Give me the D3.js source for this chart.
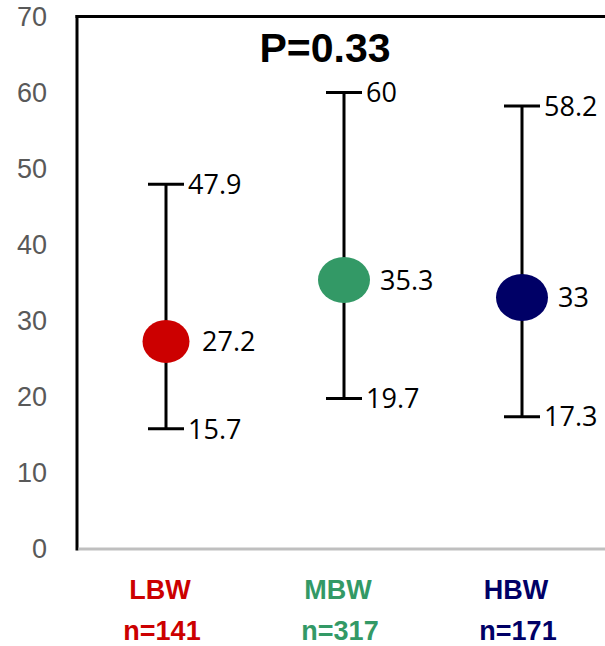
<!DOCTYPE html>
<html>
<head>
<meta charset="utf-8">
<script src="https://cdn.jsdelivr.net/npm/d3@7"></script>
<style>
  html, body { margin: 0; padding: 0; background: #fff; }
  svg { display: block; }
</style>
</head>
<body>
<svg id="chart" width="605" height="646"></svg>
<script>
// Birth-weight groups: mean with lower / upper range
const groups  = ["LBW", "MBW", "HBW"];
const counts  = [141, 317, 171];
const means   = [27.2, 35.3, 33];
const lowers  = [15.7, 19.7, 17.3];
const uppers  = [47.9, 60, 58.2];
const yTicks  = [0, 10, 20, 30, 40, 50, 60, 70];
const pValue  = "P=0.33";

// Styling
const colors  = { LBW: "#CC0000", MBW: "#339966", HBW: "#000066" };
const markerR = { LBW: [23.5, 21.5], MBW: [26, 23], HBW: [26, 23.5] };
const font    = "'Open Sans', 'Liberation Sans', Arial, sans-serif";
const axisFont = "'Liberation Sans', Arial, sans-serif";
const boldFont = "'Liberation Sans', Arial, sans-serif";

const W = 605, H = 646;
const plot = { left: 77, right: 611, top: 16.5, bottom: 548 };

const svg = d3.select("#chart");

const x = d3.scaleBand().domain(groups).range([plot.left, plot.right]).padding(0);
const cx = g => x(g) + x.bandwidth() / 2;
const y = d3.scaleLinear().domain([0, 70]).range([plot.bottom, plot.top]);

// Y axis tick labels (no tick marks)
const yAxis = d3.axisLeft(y).tickValues(yTicks).tickSize(0).tickPadding(0);
const yg = svg.append("g").attr("transform", `translate(47,0)`).call(yAxis);
yg.select(".domain").remove();
yg.selectAll("text")
  .attr("fill", "#595959")
  .attr("font-family", axisFont)
  .attr("font-size", 27)
  .attr("dy", "0.35em");

// Frame: black left and top, grey baseline
svg.append("line")
  .attr("x1", plot.left).attr("x2", plot.left)
  .attr("y1", y(70) - 1.5).attr("y2", y(0) + 2.5)
  .attr("stroke", "#000").attr("stroke-width", 3);
svg.append("line")
  .attr("x1", plot.left - 1.5).attr("x2", W)
  .attr("y1", y(70)).attr("y2", y(70))
  .attr("stroke", "#000").attr("stroke-width", 3);
svg.append("line")
  .attr("x1", plot.left + 1.5).attr("x2", W)
  .attr("y1", y(0) + 1).attr("y2", y(0) + 1)
  .attr("stroke", "#BFBFBF").attr("stroke-width", 3);

const rows = groups.map((g, i) => ({
  g, n: counts[i], mean: means[i], lo: lowers[i], hi: uppers[i]
}));

const capHalf = 18;
const bars = svg.append("g").selectAll("g").data(rows).join("g");

// Whisker and caps
bars.append("line")
  .attr("x1", d => cx(d.g)).attr("x2", d => cx(d.g))
  .attr("y1", d => y(d.lo)).attr("y2", d => y(d.hi))
  .attr("stroke", "#000").attr("stroke-width", 3);
bars.append("line")
  .attr("x1", d => cx(d.g) - capHalf).attr("x2", d => cx(d.g) + capHalf)
  .attr("y1", d => y(d.hi)).attr("y2", d => y(d.hi))
  .attr("stroke", "#000").attr("stroke-width", 3);
bars.append("line")
  .attr("x1", d => cx(d.g) - capHalf).attr("x2", d => cx(d.g) + capHalf)
  .attr("y1", d => y(d.lo)).attr("y2", d => y(d.lo))
  .attr("stroke", "#000").attr("stroke-width", 3);

// Mean markers
bars.append("ellipse")
  .attr("cx", d => cx(d.g)).attr("cy", d => y(d.mean))
  .attr("rx", d => markerR[d.g][0]).attr("ry", d => markerR[d.g][1])
  .attr("fill", d => colors[d.g]);

// Value labels
const valText = (sel, off, key) => sel.append("text")
  .attr("x", d => cx(d.g) + off)
  .attr("y", d => y(d[key]))
  .attr("dy", "0.36em")
  .attr("font-family", font)
  .attr("font-size", 27)
  .attr("fill", "#000")
  .text(d => d[key]);
valText(bars, 22, "hi");
valText(bars, 22, "lo");
valText(bars, 36, "mean");

// Category labels
const cat = svg.append("g").selectAll("g").data(rows).join("g");
cat.append("text")
  .attr("x", d => cx(d.g) - 6).attr("y", 599)
  .attr("text-anchor", "middle")
  .attr("font-family", boldFont).attr("font-weight", "bold").attr("font-size", 27)
  .attr("fill", d => colors[d.g])
  .text(d => d.g);
cat.append("text")
  .attr("x", d => cx(d.g) - 4).attr("y", 640)
  .attr("text-anchor", "middle")
  .attr("font-family", boldFont).attr("font-weight", "bold").attr("font-size", 27)
  .attr("fill", d => colors[d.g])
  .text(d => "n=" + d.n);

// Significance label
svg.append("text")
  .attr("x", 325).attr("y", 62)
  .attr("text-anchor", "middle")
  .attr("font-family", boldFont).attr("font-weight", "bold").attr("font-size", 41)
  .attr("fill", "#000")
  .text(pValue);
</script>
</body>
</html>
